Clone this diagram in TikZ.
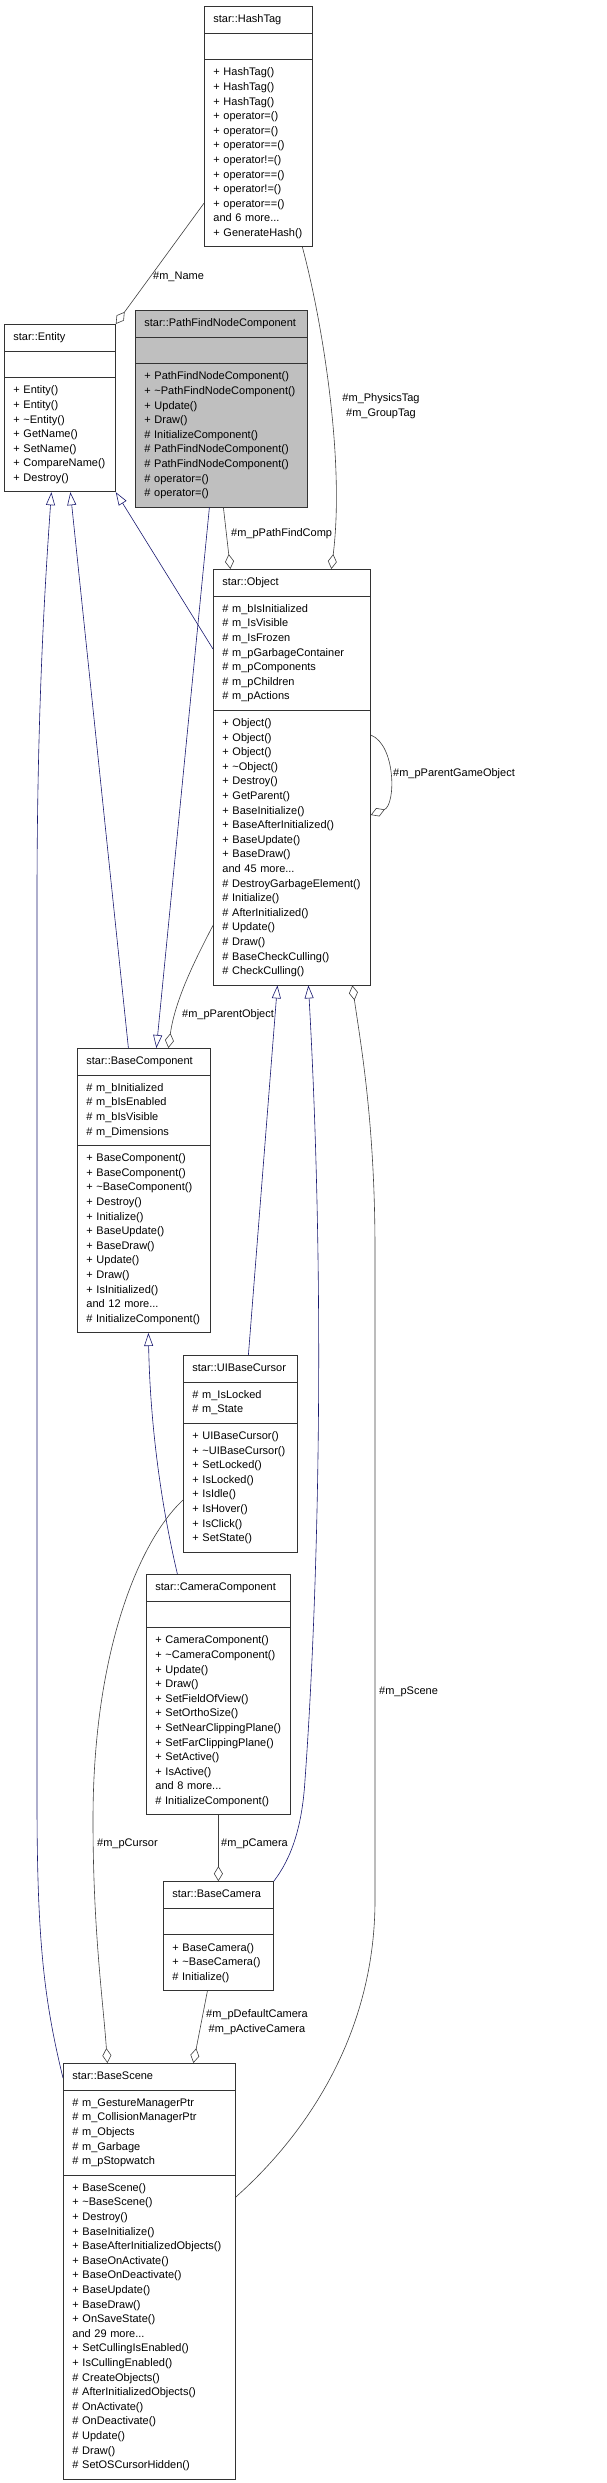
\documentclass[tikz,border=0pt]{standalone}
\usepackage{fontspec}
\setmainfont{Liberation Sans}
\usetikzlibrary{shapes.multipart, arrows.meta, positioning}
\usepackage{xcolor}

\definecolor{inhblue}{HTML}{191970}
\definecolor{relgray}{HTML}{404040}
\definecolor{focusgray}{HTML}{BFBFBF}

\newcommand{\clsfont}{\fontsize{11}{14.6}\selectfont}
\newcommand{\ctitle}[1]{\centering\strut #1}
\newcommand{\tld}{\textasciitilde}

\begin{document}
\begin{tikzpicture}[
    x=1pt, y=-1pt,
    every node/.style={font=\clsfont},
    cls/.style  ={rectangle split, rectangle split parts=3, draw=black!80, line width=0.8pt,
                  fill=white, anchor=north west, align=left,
                  inner xsep=9pt, inner ysep=5.6pt},
    focus/.style={cls, fill=focusgray},
    inh/.style  ={draw=inhblue, line width=0.6pt,
                  -{Triangle[open, length=13pt, width=9pt, fill=white]}},
    agg/.style  ={draw=relgray, line width=0.6pt,
                  -{Diamond[open, length=15pt, width=9pt, fill=white]}},
    lbl/.style  ={inner sep=1pt, align=center},
]
\useasboundingbox (0,0) rectangle (607,2483);

% ── Classes, top to bottom ───────────────────────────────────
\node[cls, text width=90pt] (hashtag) at (204,6)
  {\ctitle{star::HashTag}
   \nodepart{two}\strut
   \nodepart{three}\strut+ HashTag()\\+ HashTag()\\+ HashTag()\\+ operator=()\\
    + operator=()\\+ operator==()\\+ operator!=()\\+ operator==()\\+ operator!=()\\
    + operator==()\\and 6 more...\\+ GenerateHash()\strut};

\node[cls, text width=93pt] (entity) at (4,324)
  {\ctitle{star::Entity}
   \nodepart{two}\strut
   \nodepart{three}\strut+ Entity()\\+ Entity()\\+ \tld Entity()\\+ GetName()\\
    + SetName()\\+ CompareName()\\+ Destroy()\strut};

\node[focus, text width=154pt] (pathfind) at (135,310)
  {\ctitle{star::PathFindNodeComponent}
   \nodepart{two}\strut
   \nodepart{three}\strut+ PathFindNodeComponent()\\+ \tld PathFindNodeComponent()\\
    + Update()\\+ Draw()\\\# InitializeComponent()\\\# PathFindNodeComponent()\\
    \# PathFindNodeComponent()\\\# operator=()\\\# operator=()\strut};

\node[cls, text width=139pt] (object) at (213,569)
  {\ctitle{star::Object}
   \nodepart{two}\strut\# m\_bIsInitialized\\\# m\_IsVisible\\\# m\_IsFrozen\\
    \# m\_pGarbageContainer\\\# m\_pComponents\\\# m\_pChildren\\\# m\_pActions\strut
   \nodepart{three}\strut+ Object()\\+ Object()\\+ Object()\\+ \tld Object()\\
    + Destroy()\\+ GetParent()\\+ BaseInitialize()\\+ BaseAfterInitialized()\\
    + BaseUpdate()\\+ BaseDraw()\\and 45 more...\\\# DestroyGarbageElement()\\
    \# Initialize()\\\# AfterInitialized()\\\# Update()\\\# Draw()\\
    \# BaseCheckCulling()\\\# CheckCulling()\strut};

\node[cls, text width=115pt] (basecomp) at (77,1048)
  {\ctitle{star::BaseComponent}
   \nodepart{two}\strut\# m\_bInitialized\\\# m\_bIsEnabled\\\# m\_bIsVisible\\
    \# m\_Dimensions\strut
   \nodepart{three}\strut+ BaseComponent()\\+ BaseComponent()\\+ \tld BaseComponent()\\
    + Destroy()\\+ Initialize()\\+ BaseUpdate()\\+ BaseDraw()\\+ Update()\\+ Draw()\\
    + IsInitialized()\\and 12 more...\\\# InitializeComponent()\strut};

\node[cls, text width=96pt] (cursor) at (183,1355)
  {\ctitle{star::UIBaseCursor}
   \nodepart{two}\strut\# m\_IsLocked\\\# m\_State\strut
   \nodepart{three}\strut+ UIBaseCursor()\\+ \tld UIBaseCursor()\\+ SetLocked()\\
    + IsLocked()\\+ IsIdle()\\+ IsHover()\\+ IsClick()\\+ SetState()\strut};

\node[cls, text width=126pt] (camcomp) at (146,1574)
  {\ctitle{star::CameraComponent}
   \nodepart{two}\strut
   \nodepart{three}\strut+ CameraComponent()\\+ \tld CameraComponent()\\+ Update()\\
    + Draw()\\+ SetFieldOfView()\\+ SetOrthoSize()\\+ SetNearClippingPlane()\\
    + SetFarClippingPlane()\\+ SetActive()\\+ IsActive()\\and 8 more...\\
    \# InitializeComponent()\strut};

\node[cls, text width=92pt, below=66pt of camcomp] (basecam)
  {\ctitle{star::BaseCamera}
   \nodepart{two}\strut
   \nodepart{three}\strut+ BaseCamera()\\+ \tld BaseCamera()\\\# Initialize()\strut};

\node[cls, text width=154pt] (basescene) at (63,2063)
  {\ctitle{star::BaseScene}
   \nodepart{two}\strut\# m\_GestureManagerPtr\\\# m\_CollisionManagerPtr\\
    \# m\_Objects\\\# m\_Garbage\\\# m\_pStopwatch\strut
   \nodepart{three}\strut+ BaseScene()\\+ \tld BaseScene()\\+ Destroy()\\
    + BaseInitialize()\\+ BaseAfterInitializedObjects()\\+ BaseOnActivate()\\
    + BaseOnDeactivate()\\+ BaseUpdate()\\+ BaseDraw()\\+ OnSaveState()\\
    and 29 more...\\+ SetCullingIsEnabled()\\+ IsCullingEnabled()\\
    \# CreateObjects()\\\# AfterInitializedObjects()\\\# OnActivate()\\
    \# OnDeactivate()\\\# Update()\\\# Draw()\\\# SetOSCursorHidden()\strut};

% ── Inheritance: open triangle on the base class ─────────────
\draw[inh] ([yshift=-15pt]basescene.north west)
    .. controls (44,2000) and (37,1940) .. (37,1800) -- (37,900)
    .. controls (37,700) and (46,570) .. ([xshift=-8.5pt]entity.south);
\draw[inh] ([xshift=-15.5pt]basecomp.north) -- ([xshift=10.5pt]entity.south);
\draw[inh] ([yshift=-80pt]object.north west) -- (entity.south east);
\draw[inh] ([xshift=-12pt]pathfind.south) -- ([xshift=12.5pt]basecomp.north);
\draw[inh] ([xshift=8pt]cursor.north) -- ([xshift=-14.5pt]object.south);
\draw[inh] (basecam.north east)
    .. controls (290,1860) and (302,1830) .. (305,1780)
    .. controls (318,1600) and (326,1300) .. ([xshift=16.5pt]object.south);
\draw[inh] ([xshift=-41pt]camcomp.north)
    .. controls (160,1500) and (150,1420) .. ([xshift=4.5pt]basecomp.south);

% ── Members: open diamond on the owning class ────────────────
\draw[agg] ([yshift=44pt]hashtag.south west) -- (entity.north east);
\draw[agg] ([xshift=44pt]hashtag.south)
    .. controls (322,320) and (345,460) .. ([xshift=39.5pt]object.north);
\draw[agg] ([xshift=2pt]pathfind.south) -- ([xshift=-61.5pt]object.north);
\draw[agg] ([yshift=60pt]object.south west)
    .. controls (195,960) and (175,1000) .. ([xshift=24.5pt]basecomp.north);
\draw[agg] ([yshift=-166pt]object.north east)
    .. controls (396,745) and (396,805) .. ([yshift=-246pt]object.north east);
\draw[agg] ([yshift=-134pt]basescene.north east)
    .. controls (300,2140) and (375,2040) .. (375,1900) -- (375,1250)
    .. controls (375,1120) and (360,1040) .. ([xshift=60.5pt]object.south);
\draw[agg] ([yshift=-145pt]cursor.north west)
    .. controls (140,1540) and (93,1650) .. (93,1820)
    .. controls (93,1930) and (103,2000) .. ([xshift=-42pt]basescene.north);
\draw[agg] (camcomp.south) -- (basecam.north);
\draw[agg] ([xshift=-11pt]basecam.south) -- ([xshift=44pt]basescene.north);

% ── Member labels ────────────────────────────────────────────
\node[lbl, anchor=west] (lname)    at (152,277)  {\#m\_Name};
\node[lbl]              (ltags)    at (381,406)  {\#m\_PhysicsTag\\\#m\_GroupTag};
\node[lbl, anchor=west] (lpfcomp)  at (230,534)  {\#m\_pPathFindComp};
\node[lbl, anchor=west] (lparent)  at (181,1015) {\#m\_pParentObject};
\node[lbl, anchor=west] (lpgo)     at (392,774)  {\#m\_pParentGameObject};
\node[lbl, anchor=west] (lscene)   at (378,1692) {\#m\_pScene};
\node[lbl, anchor=west] (lcursor)  at (96,1844)  {\#m\_pCursor};
\node[lbl, anchor=west] (lcamera)  at (220,1844) {\#m\_pCamera};
\node[lbl, anchor=west] (lcams)    at (205,2022) {\#m\_pDefaultCamera\\\#m\_pActiveCamera};

\end{tikzpicture}
\end{document}
